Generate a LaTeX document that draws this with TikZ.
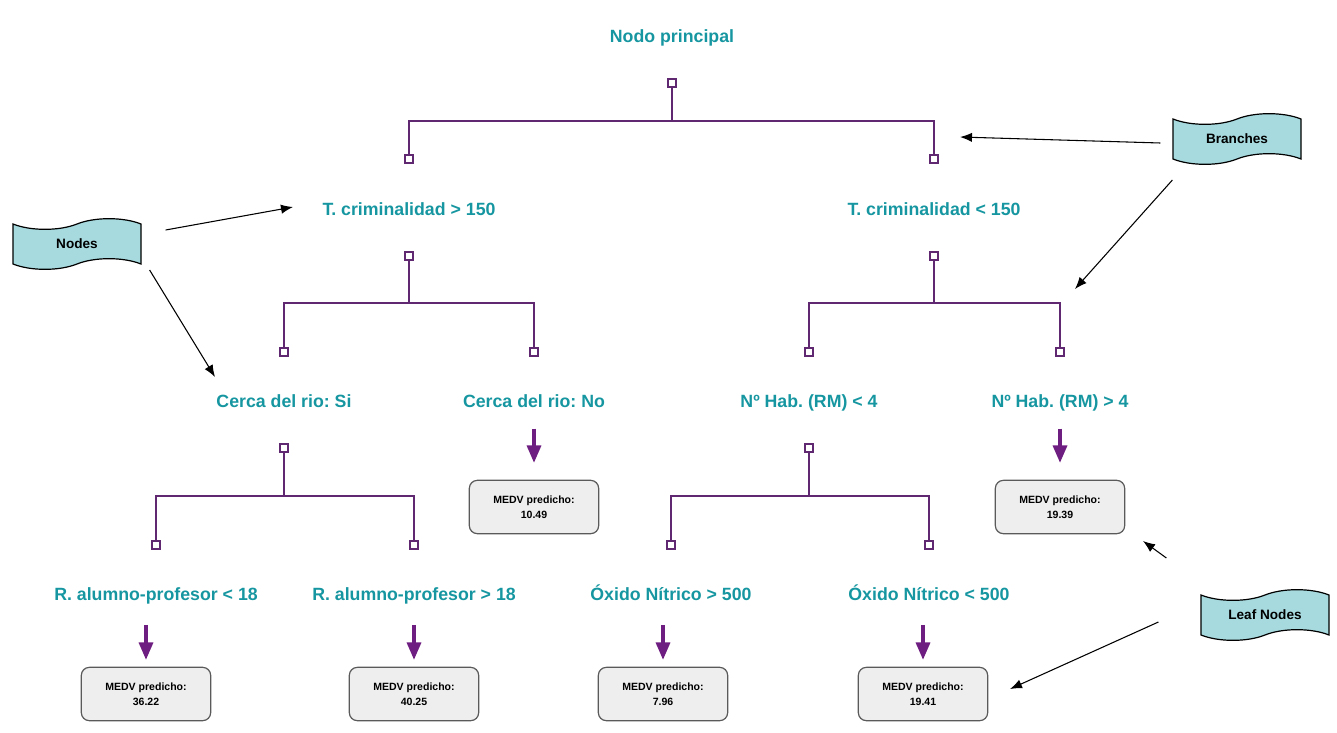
\documentclass[tikz,border=0pt]{standalone}
\usepackage{fontspec}
\setmainfont{Liberation Sans}
\frenchspacing
\usetikzlibrary{arrows.meta,shapes.symbols}
\definecolor{condtext}{RGB}{22,150,160}
\definecolor{purp}{RGB}{96,40,112}
\definecolor{arrowpurp}{RGB}{110,30,128}
\definecolor{tapefill}{RGB}{166,218,223}
\definecolor{boxfill}{RGB}{238,238,238}
\definecolor{boxline}{RGB}{90,90,90}
\begin{document}
\begin{tikzpicture}[x=0.75pt,y=-0.75pt,
  cond/.style={text=condtext,font=\fontsize{13.3}{16}\selectfont\bfseries,inner sep=0pt,text height=10pt,text depth=3pt,yshift=-1.5pt},
  sq/.style={draw=purp,fill=white,line width=1.1pt,minimum size=6pt,inner sep=0pt},
  branch/.style={draw=purp,line width=1.1pt},
  down/.style={draw=arrowpurp,line width=2.4pt,-{Triangle[length=13pt,width=10.5pt]}},
  leafbox/.style={draw=boxline,fill=boxfill,rounded corners=6pt,minimum width=97pt,minimum height=40pt,line width=0.9pt,align=center,font=\fontsize{7.9}{11}\selectfont\bfseries},
  tag/.style={tape,tape bend height=8pt,draw=black,fill=tapefill,line width=0.9pt,minimum width=96pt,minimum height=38pt,font=\fontsize{10.2}{12}\selectfont\bfseries},
  pointer/.style={draw=black,line width=0.8pt,-{Latex[length=9pt,width=7pt]}}]
\useasboundingbox (0,0) rectangle (1337,732);

\node[cond] (root) at (672,36) {Nodo principal};
\node[sq] (s0) at (672,83) {};
\node[sq] (s1) at (409,159) {};
\node[sq] (s2) at (934,159) {};
\draw[branch] (s0) -- ++(0,38) coordinate (j0);
\draw[branch] (s1) |- (j0) -| (s2);

\node[cond] (c1) at (409,209) {T. criminalidad > 150};
\node[cond] (c2) at (934,209) {T. criminalidad < 150};

\node[sq] (s3) at (409,256) {};
\node[sq] (s4) at (284,352) {};
\node[sq] (s5) at (534,352) {};
\draw[branch] (s3) -- ++(0,47) coordinate (j1);
\draw[branch] (s4) |- (j1) -| (s5);

\node[sq] (s6) at (934,256) {};
\node[sq] (s7) at (809,352) {};
\node[sq] (s8) at (1060,352) {};
\draw[branch] (s6) -- ++(0,47) coordinate (j2);
\draw[branch] (s7) |- (j2) -| (s8);

\node[cond] (r1) at (284,401) {Cerca del rio: Si};
\node[cond] (r2) at (534,401) {Cerca del rio: No};
\node[cond] (h1) at (809,401) {Nº Hab. (RM) < 4};
\node[cond] (h2) at (1060,401) {Nº Hab. (RM) > 4};

\node[sq] (s9) at (284,448) {};
\node[sq] (s10) at (156,545) {};
\node[sq] (s11) at (414,545) {};
\draw[branch] (s9) -- ++(0,48) coordinate (j3);
\draw[branch] (s10) |- (j3) -| (s11);

\node[sq] (s12) at (809,448) {};
\node[sq] (s13) at (671,545) {};
\node[sq] (s14) at (929,545) {};
\draw[branch] (s12) -- ++(0,48) coordinate (j4);
\draw[branch] (s13) |- (j4) -| (s14);

\node[leafbox] (m1) at (534,507) {MEDV predicho:\\10.49};
\node[leafbox] (m2) at (1060,507) {MEDV predicho:\\19.39};
\draw[down,shorten <=12.6pt,shorten >=12.7pt] (r2.south) -- (m1.north);
\draw[down,shorten <=12.6pt,shorten >=12.7pt] (h2.south) -- (m2.north);

\node[cond] (p1) at (156,594) {R. alumno-profesor < 18};
\node[cond] (p2) at (414,594) {R. alumno-profesor > 18};
\node[cond] (o1) at (671,594) {Óxido Nítrico > 500};
\node[cond] (o2) at (929,594) {Óxido Nítrico < 500};

\node[leafbox] (m3) at (146,694) {MEDV predicho:\\36.22};
\node[leafbox] (m4) at (414,694) {MEDV predicho:\\40.25};
\node[leafbox] (m5) at (663,694) {MEDV predicho:\\7.96};
\node[leafbox] (m6) at (923,694) {MEDV predicho:\\19.41};
\draw[down,shorten <=14.9pt,shorten >=5.2pt] (p1.south -| m3.north) -- (m3.north);
\draw[down,shorten <=14.9pt,shorten >=5.2pt] (p2.south -| m4.north) -- (m4.north);
\draw[down,shorten <=14.9pt,shorten >=5.2pt] (o1.south -| m5.north) -- (m5.north);
\draw[down,shorten <=14.9pt,shorten >=5.2pt] (o2.south -| m6.north) -- (m6.north);

\node[tag] (nodes) at (77,244) {Nodes};
\node[tag] (branches) at (1237,139) {Branches};
\node[tag] (leaves) at (1265,615) {Leaf Nodes};

\coordinate (t1) at (293,207);
\coordinate (t2) at (215,377);
\coordinate (t3) at (960,137);
\coordinate (t4) at (1075,289);
\coordinate (t5) at (1143,541);
\coordinate (t6) at (1010,689);
\draw[pointer] (nodes.east) ++(24,-14) -- (t1);
\draw[pointer] (nodes.east) ++(8,26) -- (t2);
\draw[pointer] (branches.west) ++(-12,4) -- (t3);
\draw[pointer] (branches.west) ++(0,41) -- (t4);
\draw[pointer] (leaves.west) ++(-34,-57) -- (t5);
\draw[pointer] (leaves.west) ++(-42,7) -- (t6);
\end{tikzpicture}
\end{document}
